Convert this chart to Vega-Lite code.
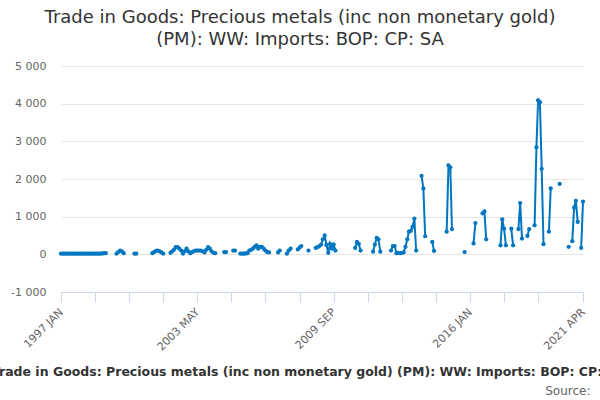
{
  "$schema": "https://vega.github.io/schema/vega-lite/v6.json",
  "width": 522,
  "height": 226,
  "autosize": "none",
  "padding": {"left": 61, "top": 66, "right": 17, "bottom": 108},
  "title": {
    "text": ["Trade in Goods: Precious metals (inc non monetary gold)", "(PM): WW: Imports: BOP: CP: SA"],
    "frame": "group",
    "anchor": "middle",
    "dx": -22,
    "offset": 11,
    "font": "DejaVu Sans",
    "fontSize": 18,
    "fontWeight": "normal",
    "color": "#333333",
    "lineHeight": 22
  },
  "config": {
    "view": {"stroke": null},
    "font": "DejaVu Sans",
    "axis": {"labelFont": "DejaVu Sans", "titleFont": "DejaVu Sans"}
  },
  "data": {
    "format": {"parse": {"d": "date:'%Y-%m'"}},
    "values": [
      {"d": "1997-01", "v": 20}, {"d": "1997-02", "v": 20}, {"d": "1997-03", "v": 20}, {"d": "1997-04", "v": 20},
      {"d": "1997-05", "v": 20}, {"d": "1997-06", "v": 20}, {"d": "1997-07", "v": 20}, {"d": "1997-08", "v": 20},
      {"d": "1997-09", "v": 20}, {"d": "1997-10", "v": 20}, {"d": "1997-11", "v": 20}, {"d": "1997-12", "v": 20},
      {"d": "1998-01", "v": 20}, {"d": "1998-02", "v": 20}, {"d": "1998-03", "v": 20}, {"d": "1998-04", "v": 20},
      {"d": "1998-05", "v": 20}, {"d": "1998-06", "v": 20}, {"d": "1998-07", "v": 20}, {"d": "1998-08", "v": 20},
      {"d": "1998-09", "v": 20}, {"d": "1998-10", "v": 20}, {"d": "1998-11", "v": 20}, {"d": "1998-12", "v": 25},
      {"d": "1999-01", "v": 30}, {"d": "1999-02", "v": 30}, {"d": "1999-03", "v": null}, {"d": "1999-04", "v": null},
      {"d": "1999-05", "v": null}, {"d": "1999-06", "v": null}, {"d": "1999-07", "v": null}, {"d": "1999-08", "v": 20},
      {"d": "1999-09", "v": 60}, {"d": "1999-10", "v": 100}, {"d": "1999-11", "v": 80}, {"d": "1999-12", "v": 30},
      {"d": "2000-01", "v": null}, {"d": "2000-02", "v": null}, {"d": "2000-03", "v": null}, {"d": "2000-04", "v": null},
      {"d": "2000-05", "v": null}, {"d": "2000-06", "v": 20}, {"d": "2000-07", "v": 20}, {"d": "2000-08", "v": null},
      {"d": "2000-09", "v": null}, {"d": "2000-10", "v": null}, {"d": "2000-11", "v": null}, {"d": "2000-12", "v": null},
      {"d": "2001-01", "v": null}, {"d": "2001-02", "v": null}, {"d": "2001-03", "v": null}, {"d": "2001-04", "v": 30},
      {"d": "2001-05", "v": 60}, {"d": "2001-06", "v": 90}, {"d": "2001-07", "v": 100}, {"d": "2001-08", "v": 80},
      {"d": "2001-09", "v": 50}, {"d": "2001-10", "v": 20}, {"d": "2001-11", "v": null}, {"d": "2001-12", "v": null},
      {"d": "2002-01", "v": null}, {"d": "2002-02", "v": 40}, {"d": "2002-03", "v": 80}, {"d": "2002-04", "v": 120},
      {"d": "2002-05", "v": 190}, {"d": "2002-06", "v": 190}, {"d": "2002-07", "v": 150}, {"d": "2002-08", "v": 100},
      {"d": "2002-09", "v": 20}, {"d": "2002-10", "v": 80}, {"d": "2002-11", "v": 150}, {"d": "2002-12", "v": 80},
      {"d": "2003-01", "v": 30}, {"d": "2003-02", "v": 60}, {"d": "2003-03", "v": 80}, {"d": "2003-04", "v": 100},
      {"d": "2003-05", "v": 100}, {"d": "2003-06", "v": 100}, {"d": "2003-07", "v": 100}, {"d": "2003-08", "v": 80},
      {"d": "2003-09", "v": 50}, {"d": "2003-10", "v": 120}, {"d": "2003-11", "v": 190}, {"d": "2003-12", "v": 150},
      {"d": "2004-01", "v": 80}, {"d": "2004-02", "v": 40}, {"d": "2004-03", "v": 30}, {"d": "2004-04", "v": null},
      {"d": "2004-05", "v": null}, {"d": "2004-06", "v": null}, {"d": "2004-07", "v": null}, {"d": "2004-08", "v": 60},
      {"d": "2004-09", "v": 60}, {"d": "2004-10", "v": null}, {"d": "2004-11", "v": null}, {"d": "2004-12", "v": null},
      {"d": "2005-01", "v": 100}, {"d": "2005-02", "v": 100}, {"d": "2005-03", "v": null}, {"d": "2005-04", "v": null},
      {"d": "2005-05", "v": 20}, {"d": "2005-06", "v": 20}, {"d": "2005-07", "v": 20}, {"d": "2005-08", "v": 25},
      {"d": "2005-09", "v": 30}, {"d": "2005-10", "v": 100}, {"d": "2005-11", "v": 120}, {"d": "2005-12", "v": 150},
      {"d": "2006-01", "v": 200}, {"d": "2006-02", "v": 240}, {"d": "2006-03", "v": 150}, {"d": "2006-04", "v": 200},
      {"d": "2006-05", "v": 200}, {"d": "2006-06", "v": 150}, {"d": "2006-07", "v": 100}, {"d": "2006-08", "v": 60},
      {"d": "2006-09", "v": 50}, {"d": "2006-10", "v": null}, {"d": "2006-11", "v": null}, {"d": "2006-12", "v": null},
      {"d": "2007-01", "v": null}, {"d": "2007-02", "v": 50}, {"d": "2007-03", "v": 100}, {"d": "2007-04", "v": null},
      {"d": "2007-05", "v": null}, {"d": "2007-06", "v": null}, {"d": "2007-07", "v": 20}, {"d": "2007-08", "v": 100},
      {"d": "2007-09", "v": 150}, {"d": "2007-10", "v": null}, {"d": "2007-11", "v": null}, {"d": "2007-12", "v": null},
      {"d": "2008-01", "v": 130}, {"d": "2008-02", "v": 180}, {"d": "2008-03", "v": 220}, {"d": "2008-04", "v": null},
      {"d": "2008-05", "v": null}, {"d": "2008-06", "v": null}, {"d": "2008-07", "v": 100}, {"d": "2008-08", "v": null},
      {"d": "2008-09", "v": null}, {"d": "2008-10", "v": null}, {"d": "2008-11", "v": 170}, {"d": "2008-12", "v": 190},
      {"d": "2009-01", "v": 220}, {"d": "2009-02", "v": 260}, {"d": "2009-03", "v": 400}, {"d": "2009-04", "v": 500},
      {"d": "2009-05", "v": 250}, {"d": "2009-06", "v": 40}, {"d": "2009-07", "v": 280}, {"d": "2009-08", "v": 150},
      {"d": "2009-09", "v": 260}, {"d": "2009-10", "v": 100}, {"d": "2009-11", "v": null}, {"d": "2009-12", "v": null},
      {"d": "2010-01", "v": null}, {"d": "2010-02", "v": null}, {"d": "2010-03", "v": null}, {"d": "2010-04", "v": null},
      {"d": "2010-05", "v": null}, {"d": "2010-06", "v": null}, {"d": "2010-07", "v": null}, {"d": "2010-08", "v": null},
      {"d": "2010-09", "v": 170}, {"d": "2010-10", "v": 330}, {"d": "2010-11", "v": 280}, {"d": "2010-12", "v": 100},
      {"d": "2011-01", "v": null}, {"d": "2011-02", "v": null}, {"d": "2011-03", "v": null}, {"d": "2011-04", "v": null},
      {"d": "2011-05", "v": null}, {"d": "2011-06", "v": null}, {"d": "2011-07", "v": 70}, {"d": "2011-08", "v": 260},
      {"d": "2011-09", "v": 440}, {"d": "2011-10", "v": 400}, {"d": "2011-11", "v": 70}, {"d": "2011-12", "v": null},
      {"d": "2012-01", "v": null}, {"d": "2012-02", "v": null}, {"d": "2012-03", "v": null}, {"d": "2012-04", "v": null},
      {"d": "2012-05", "v": 100}, {"d": "2012-06", "v": 220}, {"d": "2012-07", "v": 220}, {"d": "2012-08", "v": 30},
      {"d": "2012-09", "v": 40}, {"d": "2012-10", "v": 30}, {"d": "2012-11", "v": 40}, {"d": "2012-12", "v": 50},
      {"d": "2013-01", "v": 200}, {"d": "2013-02", "v": 400}, {"d": "2013-03", "v": 600}, {"d": "2013-04", "v": 620},
      {"d": "2013-05", "v": 730}, {"d": "2013-06", "v": 950}, {"d": "2013-07", "v": 100}, {"d": "2013-08", "v": null},
      {"d": "2013-09", "v": null}, {"d": "2013-10", "v": 2080}, {"d": "2013-11", "v": 1750}, {"d": "2013-12", "v": 480},
      {"d": "2014-01", "v": null}, {"d": "2014-02", "v": null}, {"d": "2014-03", "v": null}, {"d": "2014-04", "v": 330},
      {"d": "2014-05", "v": 90}, {"d": "2014-06", "v": null}, {"d": "2014-07", "v": null}, {"d": "2014-08", "v": null},
      {"d": "2014-09", "v": null}, {"d": "2014-10", "v": null}, {"d": "2014-11", "v": null}, {"d": "2014-12", "v": 600},
      {"d": "2015-01", "v": 2360}, {"d": "2015-02", "v": 2310}, {"d": "2015-03", "v": 670}, {"d": "2015-04", "v": null},
      {"d": "2015-05", "v": null}, {"d": "2015-06", "v": null}, {"d": "2015-07", "v": null}, {"d": "2015-08", "v": null},
      {"d": "2015-09", "v": null}, {"d": "2015-10", "v": 60}, {"d": "2015-11", "v": null}, {"d": "2015-12", "v": null},
      {"d": "2016-01", "v": null}, {"d": "2016-02", "v": null}, {"d": "2016-03", "v": 290}, {"d": "2016-04", "v": 830},
      {"d": "2016-05", "v": null}, {"d": "2016-06", "v": null}, {"d": "2016-07", "v": null}, {"d": "2016-08", "v": 1090},
      {"d": "2016-09", "v": 1140}, {"d": "2016-10", "v": 400}, {"d": "2016-11", "v": null}, {"d": "2016-12", "v": null},
      {"d": "2017-01", "v": null}, {"d": "2017-02", "v": null}, {"d": "2017-03", "v": null}, {"d": "2017-04", "v": null},
      {"d": "2017-05", "v": null}, {"d": "2017-06", "v": 240}, {"d": "2017-07", "v": 930}, {"d": "2017-08", "v": 680},
      {"d": "2017-09", "v": 240}, {"d": "2017-10", "v": null}, {"d": "2017-11", "v": null}, {"d": "2017-12", "v": 680},
      {"d": "2018-01", "v": 240}, {"d": "2018-02", "v": null}, {"d": "2018-03", "v": null}, {"d": "2018-04", "v": 670},
      {"d": "2018-05", "v": 1360}, {"d": "2018-06", "v": 420}, {"d": "2018-07", "v": null}, {"d": "2018-08", "v": null},
      {"d": "2018-09", "v": 490}, {"d": "2018-10", "v": 670}, {"d": "2018-11", "v": null}, {"d": "2018-12", "v": null},
      {"d": "2019-01", "v": 770}, {"d": "2019-02", "v": 2840}, {"d": "2019-03", "v": 4090}, {"d": "2019-04", "v": 4040},
      {"d": "2019-05", "v": 2270}, {"d": "2019-06", "v": 270}, {"d": "2019-07", "v": null}, {"d": "2019-08", "v": null},
      {"d": "2019-09", "v": 600}, {"d": "2019-10", "v": 1750}, {"d": "2019-11", "v": null}, {"d": "2019-12", "v": null},
      {"d": "2020-01", "v": null}, {"d": "2020-02", "v": null}, {"d": "2020-03", "v": 1870}, {"d": "2020-04", "v": null},
      {"d": "2020-05", "v": null}, {"d": "2020-06", "v": null}, {"d": "2020-07", "v": null}, {"d": "2020-08", "v": 200},
      {"d": "2020-09", "v": null}, {"d": "2020-10", "v": 350}, {"d": "2020-11", "v": 1240}, {"d": "2020-12", "v": 1420},
      {"d": "2021-01", "v": 860}, {"d": "2021-02", "v": null}, {"d": "2021-03", "v": 170}, {"d": "2021-04", "v": 1400}
    ]
  },
  "encoding": {
    "y": {
      "field": "v",
      "type": "quantitative",
      "scale": {"domain": [-1000, 5000], "nice": false, "zero": false},
      "axis": {
        "title": null,
        "values": [-1000, 0, 1000, 2000, 3000, 4000, 5000],
        "domain": false,
        "ticks": false,
        "gridColor": "#e6e6e6",
        "labelColor": "#666666",
        "labelFontSize": 11,
        "labelPadding": 15,
        "labelExpr": "replace(replace(format(datum.value, ','), ',', ' '), '\u2212', '-')"
      }
    }
  },
  "layer": [
    {
      "mark": {"type": "line", "color": "#0076c0", "strokeWidth": 2},
      "encoding": {
        "x": {
          "field": "d",
          "type": "temporal",
          "scale": {"domain": [{"year": 1997, "month": 1}, {"year": 2021, "month": 4}], "nice": false},
          "axis": {
            "orient": "bottom",
            "values": [
              {"year": 1997, "month": 1}, {"year": 1998, "month": 8}, {"year": 2000, "month": 3},
              {"year": 2001, "month": 10}, {"year": 2003, "month": 5}, {"year": 2004, "month": 12},
              {"year": 2006, "month": 7}, {"year": 2008, "month": 2}, {"year": 2009, "month": 9},
              {"year": 2011, "month": 4}, {"year": 2012, "month": 11}, {"year": 2014, "month": 6},
              {"year": 2016, "month": 1}, {"year": 2017, "month": 8}, {"year": 2019, "month": 3},
              {"year": 2021, "month": 4}
            ],
            "grid": false,
            "domainColor": "#ccd6eb",
            "tickColor": "#ccd6eb",
            "tickSize": 10,
            "labelAngle": -45,
            "labelColor": "#666666",
            "labelFontSize": 11,
            "labelFlush": false,
            "labelOverlap": false,
            "labelPadding": 4,
            "labelOffset": -4,
            "labelExpr": "indexof(['1997-01', '2003-05', '2009-09', '2016-01', '2021-04'], timeFormat(datum.value, '%Y-%m')) >= 0 ? upper(timeFormat(datum.value, '%Y %b')) : ''",
            "title": "Trade in Goods: Precious metals (inc non monetary gold) (PM): WW: Imports: BOP: CP: SA",
            "titleFontSize": 12.5,
            "titleFontWeight": "bold",
            "titleColor": "#333333",
            "titleX": 247,
            "titleY": 83,
            "titleAlign": "center",
            "titleBaseline": "alphabetic"
          }
        }
      }
    },
    {
      "mark": {"type": "point", "filled": true, "size": 18, "opacity": 1, "color": "#0076c0"},
      "encoding": {
        "x": {
          "field": "d",
          "type": "temporal",
          "axis": {
            "orient": "bottom",
            "domain": false,
            "ticks": false,
            "labels": false,
            "grid": false,
            "title": "Source:",
            "titleFontSize": 12,
            "titleFontWeight": "normal",
            "titleColor": "#666666",
            "titleX": 529,
            "titleY": 102,
            "titleAlign": "right",
            "titleBaseline": "alphabetic"
          }
        }
      }
    }
  ],
  "resolve": {"axis": {"x": "independent"}}
}
